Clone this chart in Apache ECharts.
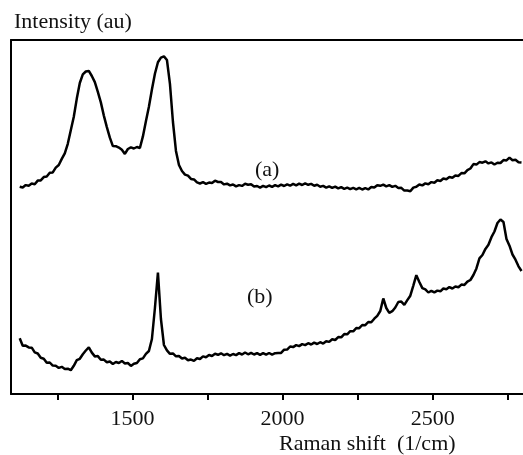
<!DOCTYPE html>
<html>
<head>
<meta charset="utf-8">
<script src="https://cdn.jsdelivr.net/npm/echarts@6/dist/echarts.min.js"></script>
<style>
  html, body { margin: 0; padding: 0; background: #fff; }
  #chart { width: 523px; height: 455px; }
</style>
</head>
<body>
<div id="chart"></div>
<script>
// Raman shift sample positions (1/cm)
const ramanShift = [
  1125, 1135, 1145, 1155, 1165, 1175, 1185, 1195, 1205, 1215,
  1225, 1235, 1245, 1255, 1265, 1275, 1285, 1295, 1305, 1315,
  1325, 1335, 1345, 1355, 1365, 1375, 1385, 1395, 1405, 1415,
  1425, 1435, 1445, 1455, 1465, 1475, 1485, 1495, 1505, 1515,
  1525, 1535, 1545, 1555, 1565, 1575, 1585, 1595, 1605, 1615,
  1625, 1635, 1645, 1655, 1665, 1675, 1685, 1695, 1705, 1715,
  1725, 1735, 1745, 1755, 1765, 1775, 1785, 1795, 1805, 1815,
  1825, 1835, 1845, 1855, 1865, 1875, 1885, 1895, 1905, 1915,
  1925, 1935, 1945, 1955, 1965, 1975, 1985, 1995, 2005, 2015,
  2025, 2035, 2045, 2055, 2065, 2075, 2085, 2095, 2105, 2115,
  2125, 2135, 2145, 2155, 2165, 2175, 2185, 2195, 2205, 2215,
  2225, 2235, 2245, 2255, 2265, 2275, 2285, 2295, 2305, 2315,
  2325, 2335, 2345, 2355, 2365, 2375, 2385, 2395, 2405, 2415,
  2425, 2435, 2445, 2455, 2465, 2475, 2485, 2495, 2505, 2515,
  2525, 2535, 2545, 2555, 2565, 2575, 2585, 2595, 2605, 2615,
  2625, 2635, 2645, 2655, 2665, 2675, 2685, 2695, 2705, 2715,
  2725, 2735, 2745, 2755, 2765, 2775, 2785, 2795
];

// Spectrum (a), offset upward (au)
const intensityA = [
  207.3, 206.5, 208.9, 208.2, 210.4, 209.8, 213.4, 213.6, 216.9, 217.5,
  221.2, 221.6, 226.4, 229.0, 235.1, 240.6, 250.2, 263.8, 277.2, 295.4,
  311.0, 319.6, 322.5, 323.1, 318.0, 311.9, 302.2, 291.6, 278.4, 266.9,
  256.3, 247.9, 247.8, 246.4, 244.2, 240.1, 245.0, 246.6, 245.5, 247.0,
  246.0, 257.6, 272.8, 287.3, 304.5, 320.2, 331.8, 336.4, 337.6, 334.0,
  310.2, 272.0, 243.1, 229.0, 223.0, 219.4, 218.3, 215.1, 214.6, 211.6,
  210.5, 211.8, 210.2, 211.4, 210.9, 213.3, 212.0, 211.9, 209.6, 210.3,
  208.6, 209.5, 207.6, 208.9, 208.1, 210.2, 209.3, 209.8, 207.5, 208.0,
  206.4, 208.1, 206.9, 208.5, 207.2, 208.8, 207.6, 209.3, 208.0, 209.6,
  208.3, 210.1, 208.7, 210.4, 209.0, 210.6, 209.2, 210.1, 208.2, 209.2,
  207.3, 208.1, 206.4, 207.7, 206.1, 207.3, 205.6, 206.9, 205.2, 206.4,
  204.9, 206.2, 204.7, 206.1, 204.5, 205.8, 204.6, 207.0, 206.4, 208.8,
  208.2, 209.4, 207.7, 208.8, 207.1, 208.2, 206.1, 206.2, 203.4, 203.5,
  202.8, 206.4, 207.2, 209.5, 208.6, 210.6, 209.7, 211.9, 211.2, 213.7,
  213.0, 215.5, 214.8, 217.0, 216.2, 218.5, 218.1, 220.9, 220.7, 223.9,
  225.5, 229.9, 229.4, 231.9, 231.3, 232.7, 230.6, 231.6, 229.5, 231.3,
  231.0, 233.9, 233.6, 236.4, 233.8, 234.3, 231.8, 231.5
];

// Spectrum (b) (au)
const intensityB = [
  55.7, 48.2, 48.4, 46.6, 46.3, 41.6, 40.5, 36.2, 35.3, 31.2,
  31.5, 28.4, 28.3, 26.1, 27.2, 25.1, 25.3, 23.8, 28.2, 33.8,
  35.2, 39.8, 43.5, 46.7, 41.4, 37.6, 37.9, 34.3, 34.4, 31.8,
  32.5, 30.0, 32.0, 31.0, 33.1, 30.5, 31.0, 28.1, 30.3, 31.0,
  34.8, 35.6, 40.1, 43.0, 55.0, 86.0, 121.3, 75.0, 49.0, 43.6,
  40.2, 40.6, 37.7, 38.0, 35.5, 36.2, 33.8, 34.4, 33.1, 35.7,
  35.0, 37.6, 36.8, 39.0, 38.0, 40.2, 39.2, 40.7, 38.8, 40.1,
  38.4, 40.0, 38.9, 40.9, 39.5, 41.5, 39.7, 41.2, 39.5, 40.9,
  39.2, 40.9, 39.3, 41.0, 39.4, 40.8, 41.0, 41.1, 44.3, 44.4,
  47.5, 46.9, 48.9, 47.9, 49.9, 48.9, 50.8, 49.5, 51.4, 50.0,
  51.8, 50.4, 52.8, 52.1, 54.8, 54.0, 56.9, 56.7, 59.9, 59.7,
  62.8, 62.7, 65.9, 65.8, 69.0, 68.8, 72.0, 71.8, 75.3, 78.2,
  83.0, 95.5, 86.0, 81.2, 82.8, 86.5, 92.0, 92.4, 89.2, 93.9,
  98.3, 108.4, 118.8, 112.0, 105.9, 104.6, 101.5, 103.2, 101.6, 103.4,
  102.7, 105.5, 104.8, 106.9, 105.5, 107.5, 106.7, 109.4, 109.1, 112.3,
  114.0, 119.0, 125.6, 135.6, 139.0, 145.1, 149.2, 156.8, 162.5, 171.0,
  174.5, 172.0, 155.0, 148.3, 139.5, 134.3, 127.7, 123.0
];

const labelTicks = [1500, 2000, 2500];
const minorTicks = [1250, 1500, 1750, 2000, 2250, 2500, 2750];

const FONT = '"Liberation Serif", "Times New Roman", serif';
const INK = '#000';
const TEXT = '#111';

const toPairs = (ys) => ramanShift.map((x, i) => [x, ys[i]]);

const chart = echarts.init(document.getElementById('chart'), null, { renderer: 'canvas' });

chart.setOption({
  backgroundColor: '#fff',
  animation: false,
  grid: { left: 11, top: 40, right: -4, bottom: 61, containLabel: false },
  xAxis: [
    {
      type: 'value',
      min: 1096,
      max: 2800,
      position: 'bottom',
      axisLine: { show: true, onZero: false, lineStyle: { color: INK, width: 2 } },
      axisTick: {
        show: true, inside: false, length: 6,
        customValues: minorTicks,
        lineStyle: { color: INK, width: 2 }
      },
      axisLabel: {
        show: true, margin: 14,
        customValues: labelTicks,
        formatter: (v) => String(v),
        color: TEXT, fontFamily: FONT, fontSize: 22
      },
      splitLine: { show: false }
    },
    {
      type: 'value',
      min: 1096,
      max: 2800,
      position: 'top',
      axisLine: { show: true, onZero: false, lineStyle: { color: INK, width: 2 } },
      axisTick: { show: false },
      axisLabel: { show: false },
      splitLine: { show: false }
    }
  ],
  yAxis: {
    type: 'value',
    min: 0,
    max: 354,
    axisLine: { show: true, onZero: false, lineStyle: { color: INK, width: 2 } },
    axisTick: { show: false },
    axisLabel: { show: false },
    splitLine: { show: false }
  },
  series: [
    {
      name: '(a)',
      type: 'line',
      data: toPairs(intensityA),
      showSymbol: false,
      smooth: false,
      clip: true,
      lineStyle: { color: INK, width: 2.5 }
    },
    {
      name: '(b)',
      type: 'line',
      data: toPairs(intensityB),
      showSymbol: false,
      smooth: false,
      clip: true,
      lineStyle: { color: INK, width: 2.5 }
    }
  ],
  graphic: [
    {
      type: 'text', left: 14, top: 11,
      style: { text: 'Intensity (au)', font: '22px ' + FONT, fill: TEXT }
    },
    {
      type: 'text', left: 279, top: 433,
      style: { text: 'Raman shift  (1/cm)', font: '22px ' + FONT, fill: TEXT }
    },
    {
      type: 'text', left: 255, top: 159,
      style: { text: '(a)', font: '22px ' + FONT, fill: TEXT }
    },
    {
      type: 'text', left: 247, top: 286,
      style: { text: '(b)', font: '22px ' + FONT, fill: TEXT }
    }
  ]
});
</script>
</body>
</html>
